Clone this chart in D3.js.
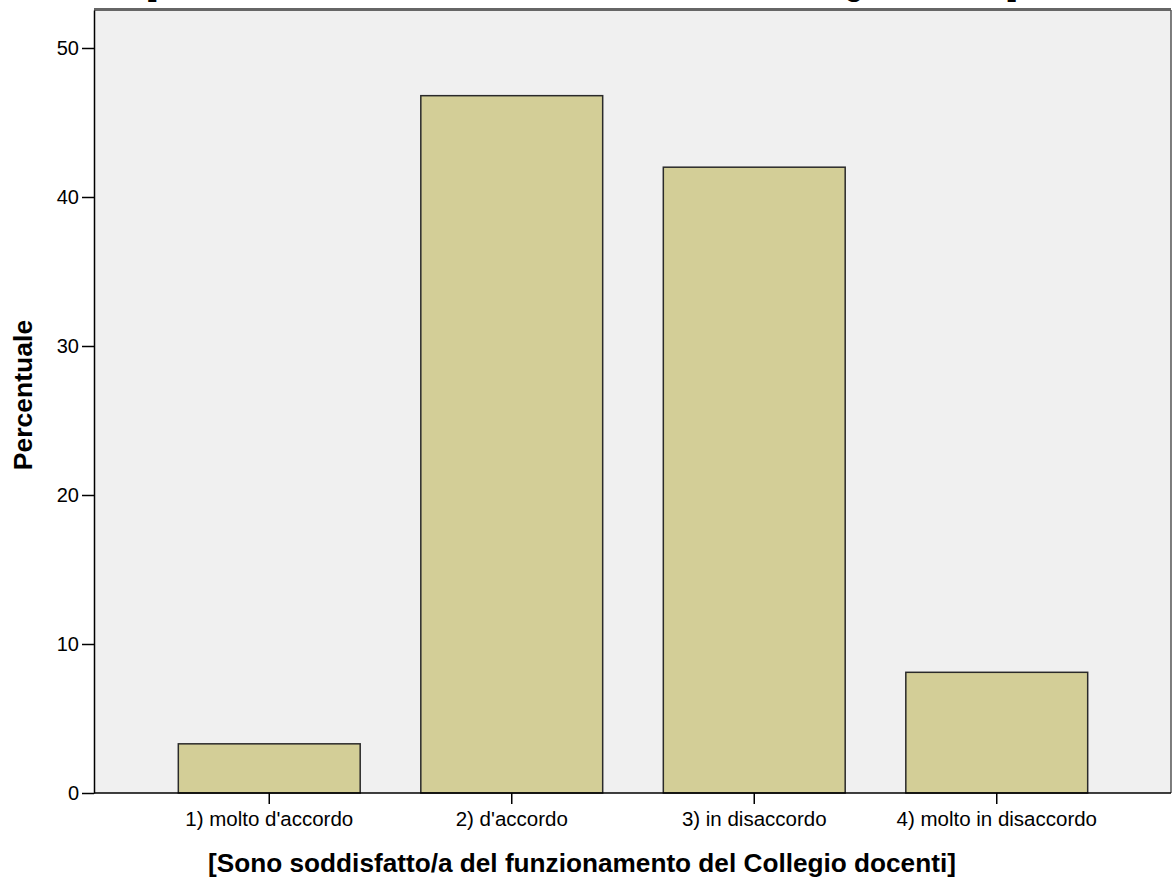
<!DOCTYPE html>
<html>
<head>
<meta charset="utf-8">
<script src="https://cdn.jsdelivr.net/npm/d3@7"></script>
<style>
  html, body { margin: 0; padding: 0; background: #ffffff; }
  svg { display: block; }
  text { font-family: "Liberation Sans", Arial, sans-serif; }
</style>
</head>
<body>
<svg id="chart" width="1172" height="882"></svg>
<script>
const categories = ["1) molto d'accordo", "2) d'accordo", "3) in disaccordo", "4) molto in disaccordo"];
const percentages = [3.3, 46.8, 42.0, 8.1];
const yTicks = [0, 10, 20, 30, 40, 50];
const chartTitle = "[Sono soddisfatto/a del funzionamento del Collegio docenti]";
const xTitle = "[Sono soddisfatto/a del funzionamento del Collegio docenti]";
const yTitle = "Percentuale";

const svg = d3.select("#chart");
const plot = { left: 94, right: 1171, top: 10, bottom: 793 };

const x = d3.scaleBand()
  .domain(categories)
  .range([148, 1118])
  .paddingInner(0.25)
  .paddingOuter(0.125);

const y = d3.scaleLinear()
  .domain([0, 52.55])
  .range([plot.bottom, plot.top]);

// title, cut off at the top edge as in the reference
svg.append("text")
  .attr("x", 582)
  .attr("y", -5)
  .attr("text-anchor", "middle")
  .attr("font-size", 30.5)
  .attr("font-weight", "bold")
  .attr("fill", "#000")
  .text(chartTitle);

// plot background
svg.append("rect")
  .attr("x", plot.left)
  .attr("y", plot.top)
  .attr("width", plot.right - plot.left)
  .attr("height", plot.bottom - plot.top)
  .attr("fill", "#f0f0f0")
  .attr("stroke", "none");

// frame top and right
svg.append("line")
  .attr("x1", plot.left).attr("x2", plot.right)
  .attr("y1", plot.top - 0.5).attr("y2", plot.top - 0.5)
  .attr("stroke", "#666").attr("stroke-width", 3);
svg.append("line")
  .attr("x1", plot.right).attr("x2", plot.right)
  .attr("y1", plot.top).attr("y2", plot.bottom)
  .attr("stroke", "#555").attr("stroke-width", 1.5);

// bars
svg.append("g")
  .selectAll("rect")
  .data(categories)
  .join("rect")
  .attr("x", d => x(d))
  .attr("y", (d, i) => y(percentages[i]))
  .attr("width", x.bandwidth())
  .attr("height", (d, i) => y(0) - y(percentages[i]))
  .attr("fill", "#d3ce97")
  .attr("stroke", "#2a2a2a")
  .attr("stroke-width", 1.5);

// y axis
const yAxis = svg.append("g")
  .attr("transform", `translate(${plot.left},0)`)
  .call(d3.axisLeft(y).tickValues(yTicks).tickFormat(d3.format("d")).tickSize(12).tickSizeOuter(0).tickPadding(3));
yAxis.select(".domain").attr("stroke", "#000").attr("stroke-width", 1.5);
yAxis.selectAll(".tick line").attr("stroke", "#000").attr("stroke-width", 1.5);
yAxis.selectAll(".tick text")
  .attr("font-size", 20)
  .attr("font-family", "Liberation Sans, Arial, sans-serif")
  .attr("fill", "#000");

// x axis
const xAxis = svg.append("g")
  .attr("transform", `translate(0,${plot.bottom})`)
  .call(d3.axisBottom(x).tickSize(11).tickSizeOuter(0).tickPadding(7));
xAxis.select(".domain").remove();
svg.append("line")
  .attr("x1", plot.left).attr("x2", plot.right)
  .attr("y1", plot.bottom).attr("y2", plot.bottom)
  .attr("stroke", "#000").attr("stroke-width", 1.5);
xAxis.selectAll(".tick line").attr("stroke", "#000").attr("stroke-width", 1.5);
xAxis.selectAll(".tick text")
  .attr("font-size", 20.5)
  .attr("font-family", "Liberation Sans, Arial, sans-serif")
  .attr("fill", "#000");

// axis titles
svg.append("text")
  .attr("x", 582)
  .attr("y", 872)
  .attr("text-anchor", "middle")
  .attr("font-size", 26.2)
  .attr("font-weight", "bold")
  .attr("fill", "#000")
  .text(xTitle);

svg.append("text")
  .attr("transform", `translate(32,${395}) rotate(-90)`)
  .attr("text-anchor", "middle")
  .attr("font-size", 26.5)
  .attr("font-weight", "bold")
  .attr("fill", "#000")
  .text(yTitle);
</script>
</body>
</html>
